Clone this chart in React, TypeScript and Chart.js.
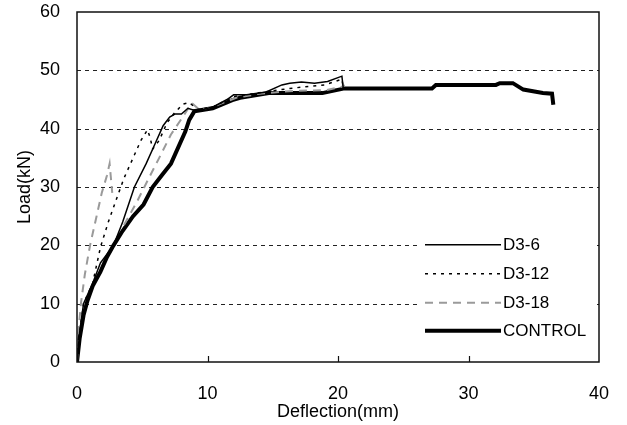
import { useEffect, useRef } from "react";
import { Chart, registerables } from "chart.js";

Chart.register(...registerables);

// ---- data (deflection in mm, load in kN) ----
const d36X = [0, 0.2, 0.5, 1.2, 1.8, 2.8, 3.5, 4.4, 5.3, 6.0, 6.6, 7.1, 7.5, 8.0, 8.5, 9.2, 10.5, 11.5, 12.0, 13.0, 14.5, 15.7, 16.3, 17.2, 18.2, 19.2, 20.3, 20.4];
const d36Y = [0, 5, 10, 13.5, 17, 20, 24, 30, 34, 37.5, 40.5, 42, 42.5, 42.5, 43.5, 43, 43.8, 45, 45.8, 45.8, 46.3, 47.5, 47.8, 48, 47.8, 48.1, 49, 47];

const d312X = [0, 0.2, 0.5, 1.2, 1.8, 2.4, 3.0, 3.6, 4.3, 4.9, 5.4, 5.6, 5.8, 6.3, 6.9, 7.4, 8.1, 8.6, 9.2, 10.5, 12.0, 13.5, 15.0, 16.0, 17.5, 19.0, 20.3, 20.4];
const d312Y = [0, 5, 10, 13.5, 19.7, 24, 27.8, 31.5, 35, 38, 39.8, 38.5, 36.5, 38, 41, 42.5, 44.2, 44.5, 43.3, 43.8, 45.5, 46, 46.5, 46.8, 47.2, 47.5, 48.5, 47];

const d318X = [0, 0.1, 0.3, 0.6, 1.0, 1.5, 1.9, 2.3, 2.5, 2.6, 2.7, 2.7, 3.6, 4.6, 5.5, 6.3, 7.2, 8.1, 8.8, 9.4, 10.7, 12.2, 14.0, 15.5, 17.0, 19.1, 20.3, 20.5];
const d318Y = [0, 5, 10, 15, 20, 25, 29, 32, 34, 31.5, 29, null, 23.5, 27.5, 31.5, 35, 39, 42, 44.4, 43.2, 44, 45.3, 46, 46.3, 46.5, 46.6, 47.2, 47.5];

const ctrlX = [0, 0.2, 0.5, 0.8, 1.2, 1.8, 2.3, 2.8, 3.5, 4.3, 5.1, 5.8, 6.5, 7.2, 7.8, 8.3, 8.6, 9.0, 10.4, 11.9, 12.5, 14.7, 18.8, 20.5, 27.2, 27.5, 32.1, 32.4, 33.4, 34.2, 35.7, 36.4, 36.5];
const ctrlY = [0, 4, 8, 10.5, 13, 15.5, 18, 20, 22.5, 25, 27, 30, 32, 34, 37, 39.5, 41.5, 43, 43.5, 44.9, 45.3, 46.1, 46.1, 46.9, 46.9, 47.5, 47.5, 47.8, 47.8, 46.7, 46.1, 46, 44.1];

const seriesNames = ["D3-6", "D3-12", "D3-18", "CONTROL"];
const gridValues = [10, 20, 30, 40, 50];
const xTickMarks = [10, 20, 30];
const xTitle = "Deflection(mm)";
const yTitle = "Load(kN)";

const FONT = "'Liberation Sans', Arial, sans-serif";

const styles = [
  { color: "#000", width: 1.5, dash: [] as number[] },
  { color: "#000", width: 1.5, dash: [3, 5] },
  { color: "#9a9a9a", width: 2, dash: [8, 6] },
  { color: "#000", width: 4, dash: [] as number[] },
];

function toPts(xs: number[], ys: (number | null)[]) {
  return xs.map((x, i) => ({ x, y: ys[i] }));
}

export default function App() {
  const ref = useRef<HTMLCanvasElement>(null);

  useEffect(() => {
    if (!ref.current) return;
    const dataSets = [
      toPts(d36X, d36Y),
      toPts(d312X, d312Y),
      toPts(d318X, d318Y),
      toPts(ctrlX, ctrlY),
    ];

    const framePlugin = {
      id: "frame",
      beforeDatasetsDraw(chart: any) {
        const { ctx, chartArea: a, scales } = chart;
        ctx.save();
        ctx.strokeStyle = "#222";
        ctx.lineWidth = 1;
        ctx.setLineDash([4, 4]);
        for (const v of gridValues) {
          const py = Math.round(scales.y.getPixelForValue(v)) + 0.5;
          ctx.beginPath();
          ctx.moveTo(a.left, py);
          ctx.lineTo(a.right, py);
          ctx.stroke();
        }
        ctx.restore();
      },
      afterDatasetsDraw(chart: any) {
        const { ctx, chartArea: a, scales } = chart;
        ctx.save();
        // legend box, placed in the lower right of the plot area
        const lx = a.right - 181;
        const ly = scales.y.getPixelForValue(22.5);
        ctx.fillStyle = "#fff";
        ctx.fillRect(lx, ly, 175, 120);
        const rowY = [14, 43, 72, 100].map((v) => ly + v);
        seriesNames.forEach((name, i) => {
          const s = styles[i];
          ctx.strokeStyle = s.color;
          ctx.lineWidth = s.width;
          ctx.setLineDash(s.dash);
          ctx.beginPath();
          ctx.moveTo(lx + 7, rowY[i]);
          ctx.lineTo(lx + 83, rowY[i]);
          ctx.stroke();
          ctx.setLineDash([]);
          ctx.fillStyle = "#000";
          ctx.font = `17px ${FONT}`;
          ctx.textBaseline = "middle";
          ctx.textAlign = "left";
          ctx.fillText(name, lx + 85, rowY[i] + 1);
        });
        // frame
        ctx.setLineDash([]);
        ctx.strokeStyle = "#111";
        ctx.lineWidth = 1.5;
        ctx.strokeRect(a.left, a.top, a.right - a.left, a.bottom - a.top);
        // inward tick marks
        ctx.lineWidth = 1.2;
        for (const v of xTickMarks) {
          const px = Math.round(scales.x.getPixelForValue(v)) + 0.5;
          ctx.beginPath();
          ctx.moveTo(px, a.bottom);
          ctx.lineTo(px, a.bottom - 6);
          ctx.stroke();
        }
        ctx.restore();
      },
    };

    const chart = new Chart(ref.current, {
      type: "line",
      data: {
        datasets: dataSets.map((d, i) => ({
          label: seriesNames[i],
          data: d,
          borderColor: styles[i].color,
          borderWidth: styles[i].width,
          borderDash: styles[i].dash,
          pointRadius: 0,
          tension: 0,
          fill: false,
          spanGaps: false,
        })),
      },
      options: {
        animation: false,
        responsive: false,
        devicePixelRatio: 1,
        layout: { padding: { left: 0, right: 28, top: 12, bottom: 0 } },
        plugins: { legend: { display: false }, tooltip: { enabled: false } },
        scales: {
          x: {
            type: "linear",
            min: 0,
            max: 40,
            ticks: { stepSize: 10, color: "#000", font: { family: FONT, size: 18 }, padding: 21 },
            grid: { display: false, drawTicks: false },
            border: { display: false },
            title: { display: true, text: xTitle, color: "#000", font: { family: FONT, size: 18 }, padding: { top: 2, bottom: 2 } },
            afterFit: (s: any) => { s.height = 63; s.paddingLeft = 0; s.paddingRight = 0; },
          },
          y: {
            type: "linear",
            min: 0,
            max: 60,
            ticks: { stepSize: 10, color: "#000", font: { family: FONT, size: 18 }, padding: 17 },
            grid: { display: false, drawTicks: false },
            border: { display: false },
            title: { display: true, text: yTitle, color: "#000", font: { family: FONT, size: 18 }, padding: { top: 14, bottom: 14 } },
            afterFit: (s: any) => { s.width = 77; s.paddingTop = 0; s.paddingBottom = 0; },
          },
        },
      },
      plugins: [framePlugin],
    } as any);
    return () => chart.destroy();
  }, []);

  return (
    <div style={{ position: "absolute", left: 0, top: 0, width: 627, height: 425, background: "#fff" }}>
      <canvas ref={ref} width={627} height={425} />
    </div>
  );
}
